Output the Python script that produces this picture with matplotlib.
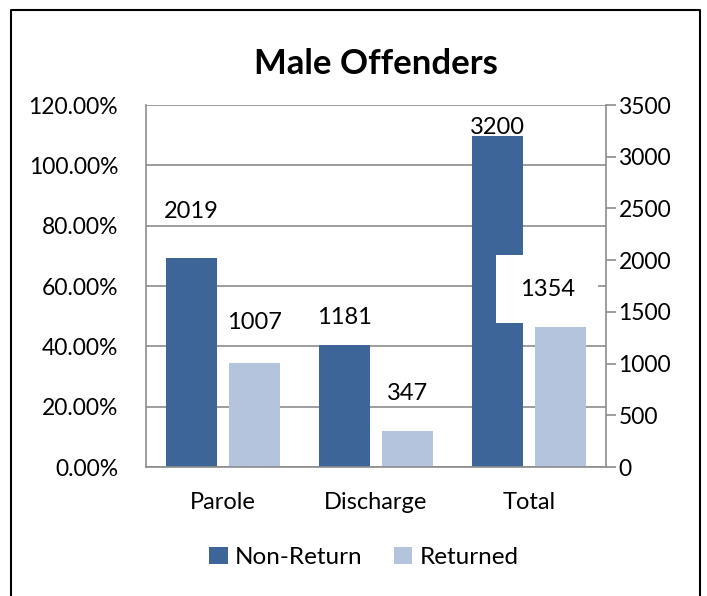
"""Male Offenders: non-return vs returned counts by release type."""

import numpy as np
import matplotlib
matplotlib.use("Agg")
import matplotlib.pyplot as plt
from matplotlib.lines import Line2D
from matplotlib.ticker import FuncFormatter, MultipleLocator

plt.rcParams["font.family"] = ["Lato", "DejaVu Sans"]

# Data
categories = ["Parole", "Discharge", "Total"]
non_return = [2019, 1181, 3200]
returned = [1007, 347, 1354]
series_names = ["Non-Return", "Returned"]

# Style
NR_COLOR = "#3E6597"
RET_COLOR = "#B5C4DD"
GRID_COLOR = "#8C8C8C"
# label placement (lift above bar in count units, x shift in category units)
nr_lift = [456, 260, 87]
ret_lift = [395, 368, 367]
ret_dx = [0, 0, -0.09]

fig = plt.figure(figsize=(7.07, 5.96), dpi=100)
ax1 = fig.add_axes([0.2065, 0.2164, 0.6505, 0.6074])
ax2 = ax1.twinx()

x = np.arange(len(categories))
width = 0.333
off = 0.206

ax1.set_ylim(0, 1.2)
ax1.yaxis.set_major_locator(MultipleLocator(0.2))
ax1.yaxis.set_major_formatter(FuncFormatter(lambda v, p: f"{v * 100:.2f}%"))
ax1.grid(axis="y", color=GRID_COLOR, linewidth=1.2)
ax1.set_axisbelow(True)
ax1.tick_params(axis="y", length=0, labelsize=16.5, pad=20)
ax1.set_xlim(-0.5, 2.5)
ax1.set_xticks(x)
ax1.set_xticklabels(categories, fontsize=17)
ax1.tick_params(axis="x", length=0, pad=18)
for s in ax1.spines.values():
    s.set_visible(False)

b1 = ax2.bar(x - off, non_return, width, color=NR_COLOR, label=series_names[0])
b2 = ax2.bar(x + off, returned, width, color=RET_COLOR, label=series_names[1])
ax2.set_ylim(0, 3500)
ax2.yaxis.set_major_locator(MultipleLocator(500))
ax2.tick_params(axis="y", length=7, width=1.2, color=GRID_COLOR, labelsize=16.5, pad=2)
for name, s in ax2.spines.items():
    s.set_color(GRID_COLOR)
    s.set_linewidth(1.2)
ax2.spines["top"].set_visible(False)

for i, v in enumerate(non_return):
    ax2.text(x[i] - off, v + nr_lift[i], str(v), ha="center", va="center", fontsize=17)
for i, v in enumerate(returned):
    t = ax2.text(x[i] + off + ret_dx[i], v + ret_lift[i], str(v), ha="center",
                 va="center", fontsize=17)
    if i == 2:
        t.set_bbox(dict(facecolor="white", edgecolor="none", boxstyle="square,pad=1.0"))

ax1.set_title("Male Offenders", fontsize=25, fontweight="bold", pad=22)

fig.legend(handles=[b1, b2], loc="center", bbox_to_anchor=(0.515, 0.065), ncol=2,
           frameon=False, fontsize=17.5, handlelength=0.75, handleheight=0.75,
           handletextpad=0.3, columnspacing=1.3)

# outer chart frame
fig.add_artist(Line2D([0.0155, 0.0155, 0.99, 0.99], [0.0, 0.983, 0.983, 0.0],
                      transform=fig.transFigure, color="black", linewidth=1.5))

fig.savefig("out.png", dpi=100)
